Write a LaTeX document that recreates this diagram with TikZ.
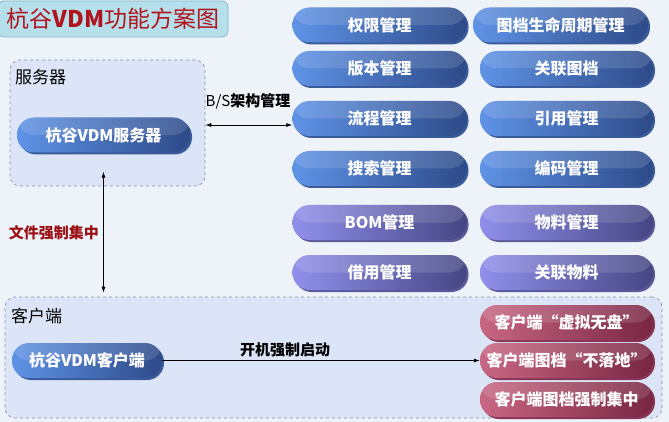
\documentclass[tikz,border=0pt]{standalone}
\usepackage{fontspec}
\setmainfont{Noto Sans CJK SC}
\usetikzlibrary{arrows.meta,calc,shadows}
\definecolor{bg}{HTML}{EEF2F9}
\definecolor{boxfill}{HTML}{DCE5F7}
\definecolor{boxdraw}{HTML}{8A94A6}
\definecolor{titlefill}{HTML}{B5E0EB}
\definecolor{titledraw}{HTML}{86B8C8}
\definecolor{titletext}{HTML}{B0141E}
\definecolor{labelred}{HTML}{9A0F12}
\definecolor{pblueL}{HTML}{5F93E6}
\definecolor{pblueR}{HTML}{2D4A88}
\definecolor{pblueS}{HTML}{3A5A9A}
\definecolor{ppurL}{HTML}{9090EC}
\definecolor{ppurR}{HTML}{464684}
\definecolor{ppurS}{HTML}{5A5A98}
\definecolor{predL}{HTML}{C86783}
\definecolor{predR}{HTML}{782642}
\definecolor{predS}{HTML}{8A3454}
\tikzset{
  pill/.style={rectangle, rounded corners=17pt, minimum width=#1, minimum height=35pt,
    inner sep=0pt, text=white, font=\bfseries\fontsize{16}{16}\selectfont,
    path picture={\fill[white,opacity=0.13] (path picture bounding box.north west) rectangle (path picture bounding box.east);}},
  pill/.default=174pt,
  bluepill/.style={pill=#1, left color=pblueL, right color=pblueR,
    drop shadow={shadow xshift=2pt, shadow yshift=-2pt, fill=pblueS, opacity=1}},
  bluepill/.default=174pt,
  purpill/.style={pill=#1, left color=ppurL, right color=ppurR,
    drop shadow={shadow xshift=2pt, shadow yshift=-2pt, fill=ppurS, opacity=1}},
  purpill/.default=174pt,
  redpill/.style={pill=#1, left color=predL, right color=predR,
    drop shadow={shadow xshift=2pt, shadow yshift=-2pt, fill=predS, opacity=1}},
  redpill/.default=174pt,
  groupbox/.style={draw=boxdraw, dashed, fill=boxfill, rounded corners=10pt, line width=0.7pt},
  grouplabel/.style={anchor=west, font=\fontsize{17}{17}\selectfont, text=black, inner sep=0pt},
  conn/.style={{Latex[length=6pt,width=4pt]}-{Latex[length=6pt,width=4pt]}, line width=0.7pt},
  connlabel/.style={font=\bfseries\fontsize{15}{15}\selectfont, inner sep=0pt},
}
\begin{document}
\begin{tikzpicture}[x=1pt,y=-1pt]
\fill[bg] (0,0) rectangle (669,422);
\useasboundingbox (0,0) rectangle (669,422);
% title
\node[draw=titledraw, fill=titlefill, rounded corners=6pt, line width=0.8pt,
  minimum width=230pt, minimum height=36pt, inner sep=0pt,
  text=titletext, font=\fontsize{23}{23}\selectfont] (title) at (113,19) {杭谷\textbf{VDM}功能方案图};
% groups
\node[groupbox, minimum width=195pt, minimum height=126pt, inner sep=0pt] (srvbox) at (107.5,123) {};
\node[grouplabel] (srvlabel) at (15,77) {服务器};
\node[groupbox, minimum width=657pt, minimum height=121pt, inner sep=0pt] (clibox) at (333.5,357.5) {};
\node[grouplabel] (clilabel) at (11,316) {客户端};
% server / client pills
\node[bluepill=173pt] (srvpill) at (103.5,135) {杭谷VDM服务器};
\node[bluepill=150pt] (clipill) at (87,360.5) {杭谷VDM客户端};
% column 1
\node[bluepill] (quanxian) at (379.5,25) {权限管理};
\node[bluepill] (banben) at (379.5,68.5) {版本管理};
\node[bluepill] (liucheng) at (379.5,118.5) {流程管理};
\node[bluepill] (sousuo) at (379.5,168.5) {搜索管理};
\node[purpill] (bom) at (379.5,222.5) {BOM管理};
\node[purpill] (jieyong) at (379.5,272.5) {借用管理};
% column 2
\node[bluepill=175pt] (shengming) at (560.5,25) {图档生命周期管理};
\node[bluepill=173pt] (guanlian) at (566.5,68.5) {关联图档};
\node[bluepill=173pt] (yinyong) at (566.5,118.5) {引用管理};
\node[bluepill=173pt] (bianma) at (566.5,168.5) {编码管理};
\node[purpill=173pt] (wuliao) at (566.5,222.5) {物料管理};
\node[purpill=173pt] (glwuliao) at (566.5,272.5) {关联物料};
\node[redpill=173pt] (xuni) at (566.5,322.5) {客户端“虚拟无盘”};
\node[redpill=173pt] (buluodi) at (566.5,360.5) {客户端图档“不落地”};
\node[redpill=173pt] (jizhong) at (566.5,399.5) {客户端图档强制集中};
% connectors
\coordinate (bsy) at (0,125);
\draw[conn] (srvbox.east |- bsy) -- (liucheng.west |- bsy);
\node[connlabel, anchor=south] (bslabel) at (248,109) {\mdseries B/S\bfseries 架构管理};
\draw[conn] ([yshift=-19pt]srvpill.south) -- ([yshift=4pt]clibox.north -| srvpill.south);
\node[connlabel, text=labelred] (fjlabel) at (54,233) {文件强制集中};
\draw[-{Latex[length=6pt,width=4pt]}, line width=0.7pt] (clipill.east) -- (buluodi.west);
\node[connlabel] (kjlabel) at (285,350) {开机强制启动};
\end{tikzpicture}
\end{document}
